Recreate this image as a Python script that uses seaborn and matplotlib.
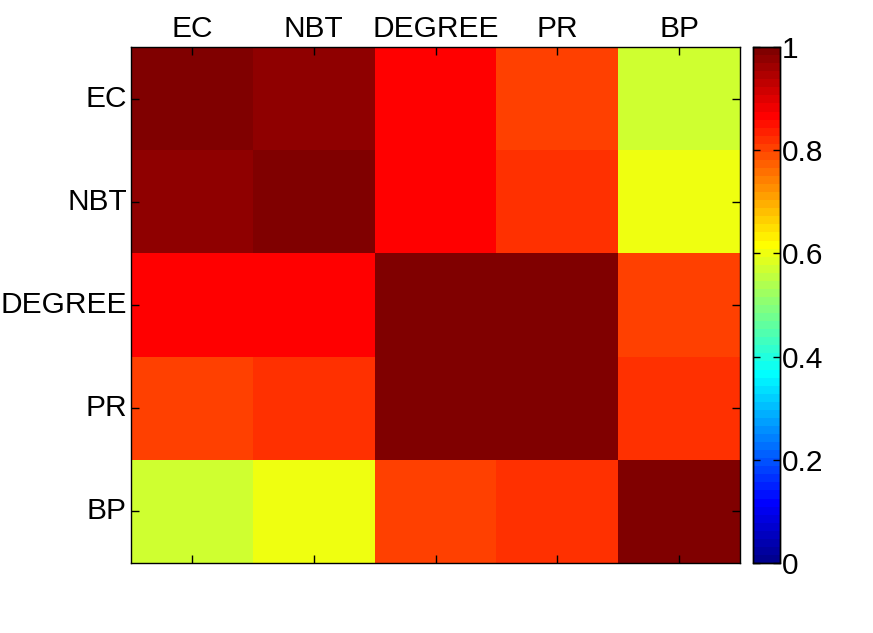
import numpy as np
import pandas as pd
import matplotlib
matplotlib.use("Agg")
import matplotlib.pyplot as plt
from matplotlib.colors import ListedColormap
import seaborn as sns

labels = ["EC", "NBT", "DEGREE", "PR", "BP"]
row_EC = [1.00, 0.975, 0.865, 0.805, 0.57]
row_NBT = [0.975, 1.00, 0.865, 0.82, 0.60]
row_DEGREE = [0.865, 0.865, 1.00, 0.99, 0.805]
row_PR = [0.805, 0.82, 0.99, 1.00, 0.82]
row_BP = [0.57, 0.60, 0.805, 0.82, 1.00]
cbar_ticks = [0, 0.2, 0.4, 0.6, 0.8, 1]
cbar_ticklabels = ["0", "0.2", "0.4", "0.6", "0.8", "1"]

df = pd.DataFrame([row_EC, row_NBT, row_DEGREE, row_PR, row_BP],
                  index=labels, columns=labels)

# MATLAB jet(64)
def matlab_jet(m=64):
    n = m // 4
    u = np.concatenate([np.arange(1, n + 1) / n, np.ones(n - 1), np.arange(n, 0, -1) / n])
    g = int(np.ceil(n / 2)) - (1 if m % 4 == 1 else 0) + np.arange(1, len(u) + 1)
    r = g + n
    b = g - n
    J = np.zeros((m, 3))
    for idx, val in zip(r, u):
        if idx <= m: J[idx - 1, 0] = val
    for idx, val in zip(g, u):
        if idx <= m: J[idx - 1, 1] = val
    for idx, val in zip(b, u):
        if 1 <= idx <= m: J[idx - 1, 2] = val
    return J

cmap = ListedColormap(matlab_jet(64))

sns.set_style("white")
plt.rcParams['font.family'] = ['Liberation Sans', 'DejaVu Sans']
plt.rcParams['text.color'] = 'black'
plt.rcParams['xtick.color'] = 'black'
plt.rcParams['ytick.color'] = 'black'
plt.rcParams['axes.labelcolor'] = 'black'

fig = plt.figure(figsize=(8.73, 6.33), dpi=100)
ax = fig.add_axes([131/873, 1 - 563/633, (740-131)/873, (563-47)/633])
cax = fig.add_axes([753/873, 1 - 563/633, 27/873, (563-47)/633])

sns.heatmap(df, ax=ax, cbar_ax=cax, cmap=cmap, vmin=0, vmax=1,
            cbar_kws={"ticks": cbar_ticks})

fs = 21.5
ax.set_axisbelow(False)
cax.set_axisbelow(False)
ax.xaxis.tick_top()
ax.set_xticklabels(labels, fontsize=fs, rotation=0, color='black')
ax.set_yticklabels(labels, fontsize=fs, rotation=0, color='black')
ax.tick_params(axis='both', which='both', direction='in', length=6, width=1,
               top=True, bottom=True, left=True, right=True,
               labeltop=True, labelbottom=False, labelleft=True, labelright=False,
               color='black', labelcolor='black', pad=3)
for s in ax.spines.values():
    s.set_visible(True)
    s.set_color('black')
    s.set_linewidth(1)
ax.set_xlabel("")
ax.set_ylabel("")

cax.set_yticks(cbar_ticks)
cax.set_yticklabels(cbar_ticklabels, fontsize=fs, color='black')
cax.tick_params(axis='y', direction='in', length=5, width=1, left=True, right=True,
                labelleft=False, labelright=True, color='black', labelcolor='black', pad=1)
for s in cax.spines.values():
    s.set_visible(True)
    s.set_color('black')
    s.set_linewidth(1)

fig.savefig("out.png", dpi=100, facecolor='white')
